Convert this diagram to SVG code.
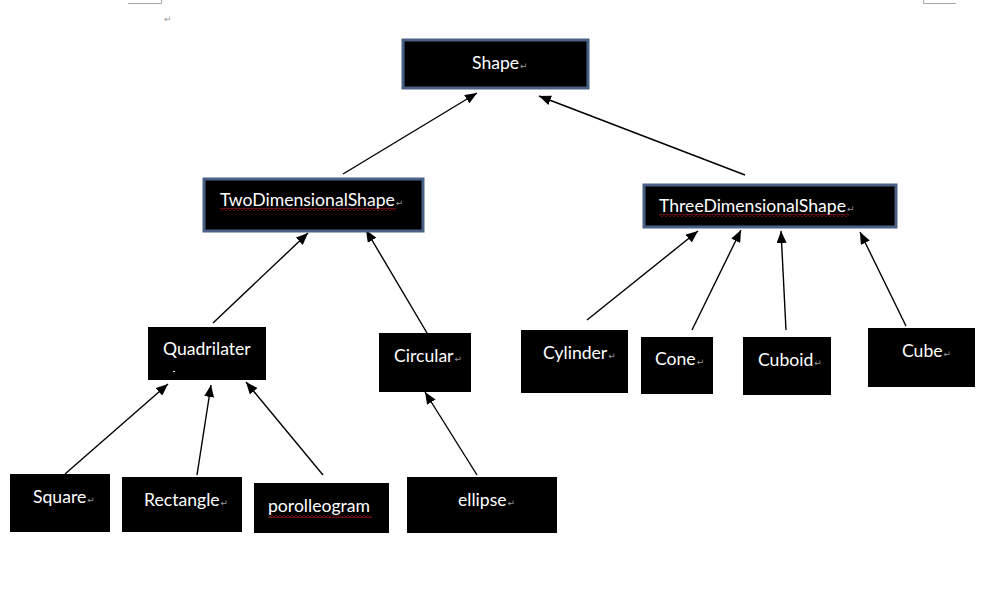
<svg xmlns="http://www.w3.org/2000/svg" width="1001" height="592" viewBox="0 0 1001 592">
<defs>
<style>
.box{fill:#000}
.framed{fill:#000;stroke:#4a6186;stroke-width:3}
.lbl{font-family:Lato,"Open Sans","Liberation Sans",sans-serif;font-size:17.6px;fill:#fff}
.ret{font-family:"DejaVu Sans",sans-serif;font-size:9px;fill:#9a9a9a}
.edge{stroke:#000;stroke-width:1.4;fill:none;marker-end:url(#ah)}
.crop{stroke:#a6a6a6;stroke-width:1;fill:none}
</style>
<marker id="ah" viewBox="0 0 10 10" refX="10" refY="5" markerWidth="12" markerHeight="10" markerUnits="userSpaceOnUse" orient="auto" preserveAspectRatio="none">
<path d="M0,0 L10,5 L0,10 z" fill="#000"/>
</marker>
<pattern id="wave" x="0" y="0" width="4" height="3" patternUnits="userSpaceOnUse">
<path d="M0,2.5 L2,0.5 L4,2.5" stroke="#d02020" stroke-width="1" fill="none"/>
</pattern>
</defs>
<rect width="1001" height="592" fill="#fff"/>
<path class="crop" d="M128,3.5 H161.5 V0"/>
<path class="crop" d="M923.5,0 V3.5 H956"/>
<text class="ret" x="164" y="22">↵</text>

<g id="connectors">
<line class="edge" x1="343" y1="174" x2="477" y2="93"/>
<line class="edge" x1="745" y1="175" x2="539" y2="96"/>
<line class="edge" x1="213" y1="323" x2="308" y2="233"/>
<line class="edge" x1="427" y1="333" x2="366" y2="230"/>
<line class="edge" x1="587" y1="320" x2="698" y2="231"/>
<line class="edge" x1="692" y1="330" x2="741" y2="230"/>
<line class="edge" x1="786" y1="330" x2="781" y2="231"/>
<line class="edge" x1="906" y1="326" x2="860" y2="232"/>
<line class="edge" x1="65" y1="474" x2="168" y2="384"/>
<line class="edge" x1="197" y1="475" x2="211" y2="385"/>
<line class="edge" x1="323" y1="475" x2="246" y2="382"/>
<line class="edge" x1="477" y1="475" x2="425" y2="392"/>
</g>

<g id="shape">
<rect class="framed" x="403" y="40" width="185" height="48"/>
<text class="lbl" x="472" y="69">Shape<tspan class="ret" dx="1">↵</tspan></text>
</g>

<g id="twoDimensionalShape">
<rect class="framed" x="204" y="179" width="219" height="52"/>
<text class="lbl" x="220" y="206">TwoDimensionalShape<tspan class="ret" dx="1">↵</tspan></text>
<rect x="220" y="208" width="176" height="3" fill="url(#wave)"/>
</g>

<g id="threeDimensionalShape">
<rect class="framed" x="644" y="185" width="252" height="42"/>
<text class="lbl" x="659" y="212">ThreeDimensionalShape<tspan class="ret" dx="1">↵</tspan></text>
<rect x="659" y="214" width="190" height="3" fill="url(#wave)"/>
</g>

<g id="quadrilater">
<rect class="box" x="148" y="327" width="118" height="53"/>
<text class="lbl" x="163" y="355">Quadrilater</text>
<rect x="173" y="371" width="2" height="1" fill="#fff"/>
</g>

<g id="circular">
<rect class="box" x="379" y="333" width="92" height="59"/>
<text class="lbl" x="394" y="362">Circular<tspan class="ret" dx="1">↵</tspan></text>
</g>

<g id="cylinder">
<rect class="box" x="521" y="330" width="107" height="63"/>
<text class="lbl" x="543" y="359">Cylinder<tspan class="ret" dx="1">↵</tspan></text>
</g>

<g id="cone">
<rect class="box" x="641" y="337" width="72" height="57"/>
<text class="lbl" x="655" y="365">Cone<tspan class="ret" dx="1">↵</tspan></text>
</g>

<g id="cuboid">
<rect class="box" x="743" y="337" width="88" height="58"/>
<text class="lbl" x="758" y="366">Cuboid<tspan class="ret" dx="1">↵</tspan></text>
</g>

<g id="cube">
<rect class="box" x="868" y="328" width="107" height="59"/>
<text class="lbl" x="902" y="357">Cube<tspan class="ret" dx="1">↵</tspan></text>
</g>

<g id="square">
<rect class="box" x="10" y="474" width="100" height="58"/>
<text class="lbl" x="33" y="503">Square<tspan class="ret" dx="1">↵</tspan></text>
</g>

<g id="rectangle">
<rect class="box" x="122" y="477" width="120" height="55"/>
<text class="lbl" x="144" y="506">Rectangle<tspan class="ret" dx="1">↵</tspan></text>
</g>

<g id="porolleogram">
<rect class="box" x="254" y="483" width="135" height="50"/>
<text class="lbl" x="268" y="512">porolleogram</text>
<rect x="268" y="515" width="104" height="3" fill="url(#wave)"/>
</g>

<g id="ellipse">
<rect class="box" x="407" y="477" width="150" height="56"/>
<text class="lbl" x="458" y="506">ellipse<tspan class="ret" dx="1">↵</tspan></text>
</g>
</svg>
